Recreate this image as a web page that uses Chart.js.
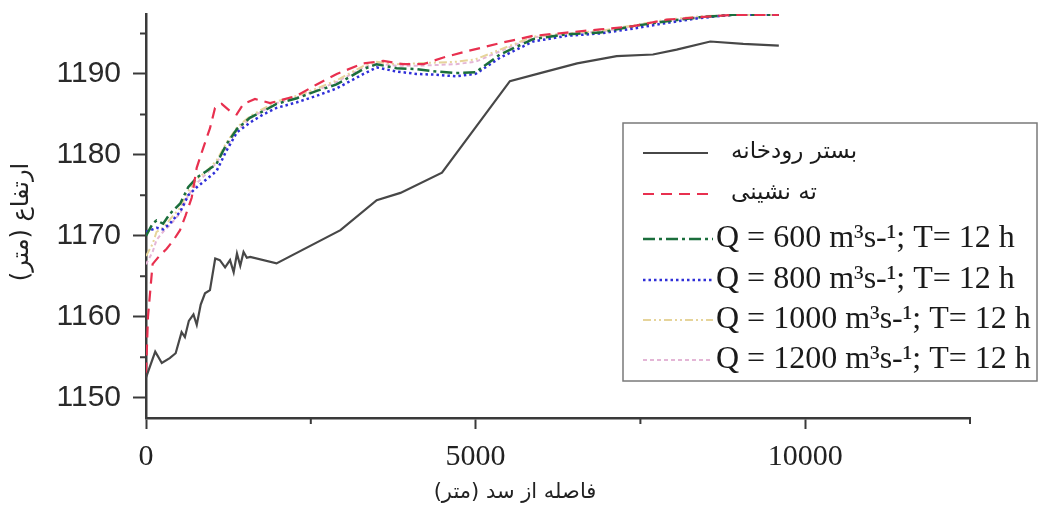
<!DOCTYPE html>
<html>
<head>
<meta charset="utf-8">
<script src="https://cdn.jsdelivr.net/npm/chart.js@4.4.0/dist/chart.umd.min.js"></script>
<style>
  html, body { margin: 0; padding: 0; background: #fff; }
  #wrap { width: 1042px; height: 512px; }
</style>
</head>
<body>
<div id="wrap"><canvas id="profileChart" width="1042" height="512"></canvas></div>
<script>
// Axis ticks
const xTicks = [0, 5000, 10000];
const xMinor = [2500, 7500, 12500];
const yTicks = [1150, 1160, 1170, 1180, 1190];
const yMinor = [1155, 1165, 1175, 1185, 1195];

// Titles and series names
const xTitle = 'فاصله از سد (متر)';
const yTitle = 'ارتفاع (متر)';
const seriesNames = [
    'بستر رودخانه',
    'ته نشینی',
    'Q = 600 m³s-¹; T= 12 h',
    'Q = 800 m³s-¹; T= 12 h',
    'Q = 1000 m³s-¹; T= 12 h',
    'Q = 1200 m³s-¹; T= 12 h'
];

// River bed
const bedX = [0, 140, 240, 360, 450, 540, 590, 650, 720, 770, 830, 895, 970, 1050, 1120, 1200, 1275, 1330, 1380, 1430, 1480, 1530, 1580, 1980, 2950, 3500, 3860, 4490, 5520, 5980, 6540, 7140, 7690, 8050, 8560, 9060, 9600];
const bedY = [1152.5, 1155.7, 1154.3, 1154.9, 1155.5, 1158.1, 1157.5, 1159.5, 1160.3, 1159, 1161.5, 1162.9, 1163.3, 1167.2, 1167, 1166.1, 1167, 1165.5, 1167.8, 1166.3, 1168, 1167.3, 1167.4, 1166.6, 1170.7, 1174.4, 1175.3, 1177.8, 1189.1, 1190.1, 1191.3, 1192.2, 1192.4, 1193, 1194, 1193.7, 1193.5];

// Deposition
const depX = [0, 30, 100, 200, 314, 420, 516, 600, 693, 769, 870, 971, 1047, 1148, 1275, 1376, 1477, 1654, 1882, 2286, 2590, 2893, 3298, 3601, 3904, 4208, 4500, 4870, 5370, 5870, 6380, 6890, 7390, 7900, 8400, 8900, 9600];
const depY = [1153, 1160, 1166.5, 1167.5, 1168.4, 1169.5, 1170.7, 1172.5, 1174.7, 1178.4, 1180.9, 1183.3, 1185.8, 1186.3, 1185.4, 1185, 1186.3, 1186.9, 1186.4, 1187.3, 1188.7, 1190, 1191.3, 1191.6, 1191.2, 1191.2, 1192, 1192.8, 1193.8, 1194.7, 1195.1, 1195.5, 1195.9, 1196.7, 1197, 1197.3, 1197.3];

// Simulated profiles (T = 12 h)
const simX = [0, 100, 160, 260, 360, 520, 640, 770, 920, 1070, 1220, 1380, 1580, 1780, 1980, 2290, 2590, 2890, 3300, 3500, 3800, 4100, 4400, 4700, 5000, 5370, 5870, 6380, 6890, 7390, 7900, 8400, 8900, 9600];
const q600 = [1170, 1171.5, 1171.9, 1171.5, 1172.7, 1174, 1176, 1177.2, 1178, 1178.9, 1181.3, 1183.2, 1184.6, 1185.4, 1186.3, 1187, 1187.9, 1188.7, 1190.6, 1191.2, 1190.7, 1190.6, 1190.3, 1190.1, 1190.2, 1192.4, 1194.3, 1194.9, 1195.1, 1195.9, 1196.5, 1197, 1197.3, 1197.3];
const q800 = [1170.5, 1170.8, 1171, 1170.8, 1171.5, 1173, 1175, 1176, 1177, 1178, 1180.5, 1182.8, 1184, 1185, 1185.8, 1186.5, 1187.3, 1188.2, 1190, 1190.8, 1190.3, 1190, 1189.9, 1189.7, 1190, 1192, 1194, 1194.7, 1195, 1195.6, 1196.3, 1196.9, 1197.3, 1197.3];
const q1000 = [1167.5, 1169, 1170.5, 1171, 1172, 1173.5, 1175.5, 1177, 1178, 1179.3, 1181.5, 1183.4, 1184.8, 1185.7, 1186.6, 1187.3, 1188.2, 1189.2, 1191, 1191.5, 1191.2, 1191.3, 1191.4, 1191.5, 1191.8, 1193, 1194.6, 1195, 1195.3, 1196, 1196.7, 1197.1, 1197.3, 1197.3];
const q1200 = [1166.5, 1168, 1169.5, 1170.5, 1171.3, 1172.8, 1175, 1176.5, 1177.7, 1179, 1181, 1183, 1184.5, 1185.5, 1186.4, 1187.1, 1188, 1189, 1190.8, 1191.3, 1191, 1191, 1191.1, 1191.2, 1191.5, 1192.8, 1194.5, 1195, 1195.2, 1195.9, 1196.6, 1197, 1197.3, 1197.3];

function pts(xs, ys) {
    return xs.map((x, i) => ({ x: x, y: ys[i] }));
}

const axisColor = '#3a3a3a';

// minor ticks, axis titles and the boxed legend
const extras = {
    id: 'extras',
    afterDraw(chart) {
        const ctx = chart.ctx;
        const xs = chart.scales.x;
        const ys = chart.scales.y;
        ctx.save();
        ctx.strokeStyle = axisColor;
        ctx.lineWidth = 2;
        ctx.beginPath();
        yMinor.forEach(v => {
            const py = ys.getPixelForValue(v);
            ctx.moveTo(xs.left - 6, py);
            ctx.lineTo(xs.left, py);
        });
        xMinor.forEach(v => {
            const px = xs.getPixelForValue(v);
            ctx.moveTo(px, ys.bottom);
            ctx.lineTo(px, ys.bottom + 6);
        });
        ctx.stroke();

        // axis titles
        ctx.fillStyle = '#222';
        ctx.direction = 'rtl';
        ctx.textAlign = 'center';
        ctx.textBaseline = 'middle';
        ctx.font = '21px "DejaVu Sans"';
        ctx.fillText(xTitle, 515, 493);
        ctx.save();
        ctx.translate(22, 222);
        ctx.rotate(-Math.PI / 2);
        ctx.font = '24px "DejaVu Sans"';
        ctx.fillText(yTitle, 0, 0);
        ctx.restore();

        // legend
        const box = { left: 623, top: 123, right: 1037, bottom: 381 };
        ctx.fillStyle = '#fff';
        ctx.fillRect(box.left, box.top, box.right - box.left, box.bottom - box.top);
        ctx.strokeStyle = '#7a7a7a';
        ctx.lineWidth = 1.5;
        ctx.strokeRect(box.left, box.top, box.right - box.left, box.bottom - box.top);

        const rowY = [153, 194, 239, 280, 320, 360];
        chart.data.datasets.forEach((ds, i) => {
            const y = rowY[i];
            const x1 = i < 2 ? 708 : 713;
            ctx.save();
            ctx.strokeStyle = ds.borderColor;
            ctx.lineWidth = ds.borderWidth;
            ctx.setLineDash(ds.borderDash || []);
            ctx.beginPath();
            ctx.moveTo(643, y);
            ctx.lineTo(x1, y);
            ctx.stroke();
            ctx.restore();

            ctx.fillStyle = '#1a1a1a';
            ctx.textBaseline = 'middle';
            ctx.textAlign = 'left';
            if (i < 2) {
                ctx.direction = 'rtl';
                ctx.font = '23px "DejaVu Sans"';
                ctx.fillText(ds.label, 731, y - 1);
            } else {
                ctx.direction = 'ltr';
                ctx.font = '32px "Liberation Serif"';
                ctx.fillText(ds.label, 716, y);
            }
        });
        ctx.restore();
    }
};

const ctx = document.getElementById('profileChart').getContext('2d');
const profileChart = new Chart(ctx, {
    type: 'line',
    data: {
        datasets: [
            { label: seriesNames[0], data: pts(bedX, bedY), borderColor: '#474747', borderWidth: 2.2 },
            { label: seriesNames[1], data: pts(depX, depY), borderColor: '#e8304f', borderWidth: 2.2, borderDash: [11, 7] },
            { label: seriesNames[2], data: pts(simX, q600), borderColor: '#1b6e3c', borderWidth: 2.5, borderDash: [12, 4, 3, 4] },
            { label: seriesNames[3], data: pts(simX, q800), borderColor: '#2f2fd8', borderWidth: 2.5, borderDash: [2.5, 3] },
            { label: seriesNames[4], data: pts(simX, q1000), borderColor: '#e6d49a', borderWidth: 2, borderDash: [8, 3, 2, 3, 2, 3] },
            { label: seriesNames[5], data: pts(simX, q1200), borderColor: '#e4b6d6', borderWidth: 2, borderDash: [4, 3] }
        ]
    },
    options: {
        responsive: false,
        animation: false,
        layout: { padding: { left: 0, top: 14, right: 72, bottom: 0 } },
        elements: { point: { radius: 0 }, line: { tension: 0, fill: false } },
        plugins: {
            legend: { display: false },
            tooltip: { enabled: false }
        },
        scales: {
            x: {
                type: 'linear',
                min: 0,
                max: 12500,
                afterBuildTicks: s => { s.ticks = xTicks.map(v => ({ value: v })); },
                afterFit: s => { s.height = 94; s.paddingLeft = 0; s.paddingRight = 0; },
                ticks: {
                    font: { family: 'Liberation Serif', size: 30 },
                    color: '#222',
                    padding: 10,
                    callback: v => String(v)
                },
                grid: { drawOnChartArea: false, tickLength: 11, tickColor: axisColor, tickWidth: 2 },
                border: { color: axisColor, width: 2.5 }
            },
            y: {
                type: 'linear',
                min: 1147.5,
                max: 1197.4,
                afterBuildTicks: s => { s.ticks = yTicks.map(v => ({ value: v })); },
                afterFit: s => { s.width = 146; s.paddingTop = 0; s.paddingBottom = 0; },
                ticks: {
                    font: { family: 'Liberation Sans', size: 30 },
                    color: '#2a2a2a',
                    padding: 12,
                    callback: v => String(v)
                },
                grid: { drawOnChartArea: false, tickLength: 13, tickColor: axisColor, tickWidth: 2 },
                border: { color: axisColor, width: 2.5 }
            }
        }
    },
    plugins: [extras]
});
</script>
</body>
</html>
